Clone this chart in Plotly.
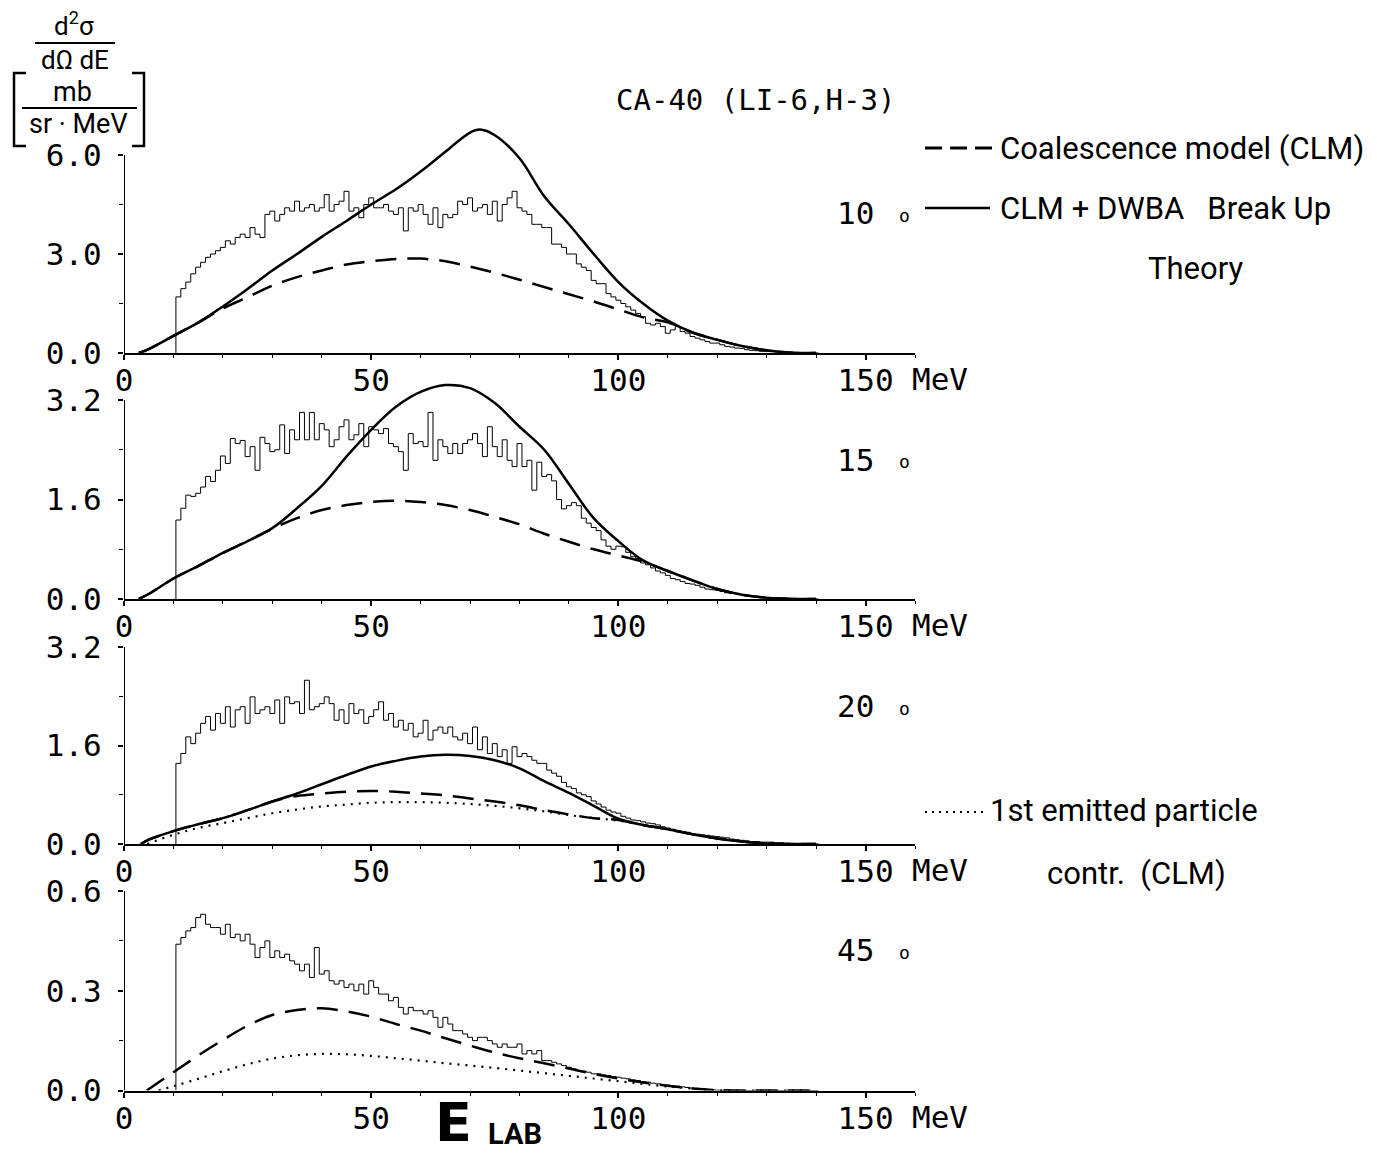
import plotly.graph_objects as go

W, H = 1377, 1153
MONO = "DejaVu Sans Mono"
SANS = "Roboto"

# ---------------- data ----------------
hist_E = list(range(11, 141))  # bin centres (MeV), 1 MeV bins

hist_10 = [1.7, 1.95, 2.15, 2.4, 2.6, 2.75, 2.9, 3.0, 3.1, 3.2,
           3.4, 3.3, 3.5, 3.6, 3.5, 3.8, 3.6, 3.5, 4.2, 4.3,
           4.0, 4.2, 4.4, 4.3, 4.6, 4.3, 4.4, 4.5, 4.3, 4.4,
           4.8, 4.3, 4.5, 4.6, 4.9, 4.3, 4.4, 4.1, 4.5, 4.7,
           4.4, 4.4, 4.5, 4.3, 4.2, 4.4, 3.7, 4.4, 4.3, 4.5,
           4.2, 3.9, 4.4, 3.8, 4.2, 4.1, 4.2, 4.6, 4.5, 4.7,
           4.3, 4.4, 4.5, 4.2, 4.6, 4.0, 4.5, 4.7, 4.9, 4.4,
           4.3, 4.2, 3.9, 3.9, 3.8, 3.8, 3.3, 3.3, 3.2, 3.0,
           3.0, 2.7, 2.6, 2.5, 2.2, 2.1, 2.1, 1.8, 1.7, 1.6,
           1.5, 1.4, 1.3, 1.2, 1.1, 0.9, 0.85, 0.9, 0.8, 0.6,
           0.7, 0.8, 0.65, 0.6, 0.5, 0.45, 0.4, 0.35, 0.3, 0.3,
           0.25, 0.2, 0.18, 0.15, 0.14, 0.1, 0.08, 0.07, 0.05, 0.05,
           0.04, 0.03, 0.03, 0.02, 0.02, 0.01, 0.01, 0, 0, 0]

hist_15 = [1.27, 1.46, 1.67, 1.65, 1.7, 1.8, 1.97, 1.89, 2.07, 2.3,
           2.18, 2.58, 2.5, 2.55, 2.29, 2.45, 2.07, 2.6, 2.5, 2.37,
           2.4, 2.8, 2.34, 2.72, 2.56, 3.0, 2.56, 3.0, 2.56, 2.82,
           2.72, 2.45, 2.56, 2.77, 2.88, 2.56, 2.64, 2.82, 2.45, 2.77,
           2.72, 2.66, 2.74, 2.5, 2.45, 2.37, 2.07, 2.66, 2.5, 2.53,
           2.45, 3.0, 2.23, 2.56, 2.45, 2.34, 2.5, 2.34, 2.5, 2.56,
           2.66, 2.5, 2.29, 2.77, 2.45, 2.29, 2.56, 2.23, 2.13, 2.5,
           2.13, 2.23, 1.75, 2.2, 1.97, 2.0, 1.9, 1.6, 1.45, 1.5,
           1.55, 1.5, 1.3, 1.22, 1.15, 1.1, 0.95, 0.85, 0.8, 0.85,
           0.84, 0.75, 0.68, 0.65, 0.58, 0.55, 0.5, 0.45, 0.42, 0.38,
           0.33, 0.31, 0.28, 0.25, 0.24, 0.22, 0.19, 0.16, 0.15, 0.14,
           0.12, 0.1, 0.09, 0.09, 0.07, 0.05, 0.04, 0.03, 0.03, 0.02,
           0.02, 0.01, 0.01, 0.01, 0, 0, 0, 0, 0, 0]

hist_20 = [1.31, 1.47, 1.74, 1.63, 1.8, 1.96, 2.07, 1.85, 2.12, 1.96,
           2.23, 1.9, 2.18, 2.23, 1.96, 2.39, 2.12, 2.18, 2.23, 2.12,
           2.34, 1.96, 2.39, 2.28, 2.31, 2.12, 2.66, 2.18, 2.23, 2.28,
           2.39, 2.28, 2.01, 2.18, 1.96, 2.28, 2.12, 2.18, 1.96, 2.07,
           2.18, 2.31, 2.01, 2.12, 1.9, 2.01, 1.85, 1.96, 1.74, 1.8,
           2.01, 1.69, 1.85, 1.9, 1.8, 1.9, 1.74, 1.69, 1.8, 1.63,
           1.9, 1.53, 1.74, 1.47, 1.63, 1.42, 1.53, 1.31, 1.58, 1.42,
           1.47, 1.42, 1.36, 1.31, 1.31, 1.2, 1.15, 1.1, 1.0, 0.93,
           0.9, 0.83, 0.8, 0.77, 0.7, 0.65, 0.6, 0.55, 0.52, 0.5,
           0.45, 0.42, 0.39, 0.38, 0.36, 0.34, 0.33, 0.31, 0.28, 0.26,
           0.24, 0.22, 0.2, 0.19, 0.17, 0.16, 0.15, 0.14, 0.13, 0.12,
           0.11, 0.1, 0.08, 0.07, 0.06, 0.05, 0.04, 0.04, 0.03, 0.03,
           0.03, 0.02, 0.02, 0.01, 0.01, 0, 0, 0, 0, 0]

hist_45 = [0.44, 0.46, 0.48, 0.49, 0.52, 0.53, 0.5, 0.49, 0.49, 0.47,
           0.5, 0.46, 0.47, 0.45, 0.47, 0.44, 0.4, 0.43, 0.45, 0.4,
           0.42, 0.4, 0.41, 0.39, 0.38, 0.36, 0.38, 0.34, 0.43, 0.35,
           0.36, 0.33, 0.32, 0.33, 0.31, 0.32, 0.3, 0.32, 0.29, 0.33,
           0.31, 0.29, 0.29, 0.27, 0.28, 0.25, 0.23, 0.25, 0.24, 0.24,
           0.23, 0.24, 0.22, 0.19, 0.22, 0.2, 0.18, 0.18, 0.17, 0.16,
           0.15, 0.16, 0.16, 0.15, 0.14, 0.13, 0.14, 0.13, 0.13, 0.14,
           0.11, 0.12, 0.11, 0.12, 0.09, 0.09, 0.085, 0.08, 0.075, 0.07,
           0.065, 0.06, 0.058, 0.055, 0.05, 0.05, 0.047, 0.045, 0.042, 0.04,
           0.037, 0.035, 0.032, 0.03, 0.027, 0.025, 0.022, 0.02, 0.018, 0.016,
           0.014, 0.013, 0.011, 0.009, 0.007, 0.005, 0.004, 0.003, 0.002, 0.001,
           0, 0, 0, 0, 0, 0, 0, 0, 0, 0,
           0, 0, 0, 0, 0, 0, 0, 0, 0, 0]

grid5 = list(range(5, 141, 5))  # 5,10,...,140

# 10 deg
dwba10_E = [3] + list(range(5, 71, 5)) + [72] + list(range(75, 141, 5))
dwba10 = [0, 0.12, 0.52, 0.92, 1.41, 1.94, 2.5, 3.0, 3.52, 4.0, 4.5, 4.96, 5.5, 6.1, 6.68,
          6.77, 6.6, 5.9, 4.75, 3.9, 3.0, 2.15, 1.5, 0.98, 0.62, 0.4, 0.21, 0.08, 0.01, 0]
clm10_E = [3] + grid5
clm10 = [0, 0.12, 0.52, 0.92, 1.35, 1.69, 2.04, 2.3, 2.5, 2.68, 2.78, 2.85, 2.86, 2.78, 2.62,
         2.43, 2.22, 2.0, 1.78, 1.56, 1.32, 1.08, 0.93, 0.62, 0.4, 0.21, 0.08, 0.01, 0]

# 15 deg
dwba15_E = [3] + grid5
dwba15 = [0, 0.08, 0.33, 0.53, 0.74, 0.93, 1.14, 1.46, 1.82, 2.29, 2.72, 3.09, 3.33, 3.44, 3.39,
          3.15, 2.77, 2.4, 1.85, 1.3, 0.93, 0.62, 0.45, 0.3, 0.16, 0.07, 0.02, 0, 0]
clm15_E = [3] + grid5
clm15 = [0, 0.08, 0.33, 0.53, 0.74, 0.93, 1.13, 1.3, 1.43, 1.51, 1.56, 1.58, 1.56, 1.51, 1.43,
         1.32, 1.2, 1.05, 0.92, 0.8, 0.7, 0.6, 0.45, 0.3, 0.16, 0.07, 0.02, 0, 0]

# 20 deg
dwba20_E = [3.4] + grid5
dwba20 = [0, 0.07, 0.21, 0.32, 0.42, 0.55, 0.69, 0.82, 0.97, 1.12, 1.26, 1.35, 1.42, 1.45, 1.43,
          1.36, 1.23, 1.02, 0.83, 0.62, 0.41, 0.31, 0.24, 0.16, 0.09, 0.04, 0.01, 0, 0]
clm20_E = [3.4] + grid5
clm20 = [0, 0.07, 0.21, 0.32, 0.42, 0.55, 0.69, 0.78, 0.82, 0.85, 0.86, 0.85, 0.82, 0.79, 0.74,
         0.69, 0.63, 0.55, 0.48, 0.42, 0.39, 0.31, 0.24, 0.16, 0.09, 0.04, 0.01, 0, 0]
first20_E = [4.7] + list(range(10, 141, 5))
first20 = [0, 0.15, 0.26, 0.34, 0.42, 0.5, 0.56, 0.61, 0.64, 0.67, 0.68, 0.68, 0.67, 0.65,
           0.62, 0.58, 0.53, 0.47, 0.42, 0.38, 0.31, 0.24, 0.16, 0.09, 0.04, 0.01, 0, 0]

# 45 deg
clm45_E = [4.6] + list(range(10, 141, 5))
clm45 = [0, 0.055, 0.105, 0.152, 0.195, 0.227, 0.242, 0.247, 0.238, 0.222, 0.2, 0.18,
         0.157, 0.135, 0.114, 0.097, 0.082, 0.066, 0.05, 0.036, 0.024, 0.014, 0.006, 0.001,
         0, 0, 0, 0]
first45_E = [7] + list(range(10, 141, 5))
first45 = [0, 0.013, 0.035, 0.058, 0.079, 0.096, 0.106, 0.11, 0.109, 0.104, 0.097, 0.09,
           0.082, 0.075, 0.068, 0.06, 0.052, 0.044, 0.036, 0.028, 0.02, 0.012, 0.006, 0.001,
           0, 0, 0, 0]

angles = ["10", "15", "20", "45"]
y_ticklabels = [["0.0", "3.0", "6.0"], ["0.0", "1.6", "3.2"], ["0.0", "1.6", "3.2"], ["0.0", "0.3", "0.6"]]
x_tickvals = [0, 50, 100, 150]
x_ticktext = ["0", "50", "100", "150"]

# ---------------- layout helpers ----------------
OFF = 8  # page body margin compensation


def px(x):
    return (x - OFF) / W


def py(y):
    return 1 - (y - OFF) / H


X0PX, X1PX = 124, 915
XMAX = 160
# (y0 pixel, top tick value, top tick pixel, range max)
panels = [(353, 6.0, 155, 7.0), (599, 3.2, 400, 3.6), (844, 3.2, 647, 3.2), (1090.5, 0.6, 891, 0.6)]

fig = go.Figure()

hist_sets = [hist_10, hist_15, hist_20, hist_45]
solid_sets = [(dwba10_E, dwba10), (dwba15_E, dwba15), (dwba20_E, dwba20), None]
dash_sets = [(clm10_E, clm10), (clm15_E, clm15), (clm20_E, clm20), (clm45_E, clm45)]
dot_sets = [None, None, (first20_E, first20), (first45_E, first45)]

shapes = []
annotations = []

for i, (y0px, topv, toppx, rmax) in enumerate(panels):
    n = "" if i == 0 else str(i + 1)
    xa, ya = "x" + n, "y" + n
    scale = (y0px - toppx) / topv
    dom_top = y0px - rmax * scale
    fig.layout["xaxis" + n] = dict(
        domain=[px(X0PX), px(X1PX)], range=[0, XMAX], anchor=ya, automargin=False,
        showline=True, linecolor="black", linewidth=2,
        ticks="outside", ticklen=5, tickwidth=1.5, tickcolor="black",
        tickmode="array", tickvals=x_tickvals, ticktext=x_ticktext,
        minor=dict(dtick=10, tick0=0, ticks="outside", ticklen=3, tickcolor="black", tickwidth=1),
        showgrid=False, zeroline=False, ticklabelstandoff=-6,
        tickfont=dict(family=MONO, size=31, color="black"),
    )
    fig.layout["yaxis" + n] = dict(
        domain=[py(y0px), py(dom_top)], range=[0, rmax], anchor=xa, automargin=False,
        showline=False, ticks="outside", ticklen=5, tickwidth=1.5, tickcolor="black",
        tickmode="array", tickvals=[0, topv / 2, topv], ticktext=y_ticklabels[i],
        minor=dict(tickmode="array", tickvals=[topv / 4, 3 * topv / 4], ticks="outside",
                   ticklen=4, tickcolor="black", tickwidth=1),
        showgrid=False, zeroline=False, ticklabelstandoff=10,
        tickfont=dict(family=MONO, size=31, color="black"),
    )
    # y axis line up to top tick
    shapes.append(dict(type="line", xref=xa, yref=ya, x0=0, x1=0, y0=0, y1=topv,
                       line=dict(color="black", width=2)))

    # histogram (step)
    hv = hist_sets[i]
    hx = [hist_E[0] - 0.5] + [e - 0.5 for e in hist_E] + [hist_E[-1] + 0.5]
    hy = [0] + hv + [hv[-1]]
    fig.add_trace(go.Scatter(x=hx, y=hy, mode="lines", line=dict(color="black", width=1, shape="hv"),
                             xaxis=xa, yaxis=ya, showlegend=False, hoverinfo="skip"))
    if dot_sets[i]:
        e, v = dot_sets[i]
        fig.add_trace(go.Scatter(x=e, y=v, mode="lines",
                                 line=dict(color="black", width=2.2, dash="2px,6px", shape="spline", smoothing=1),
                                 xaxis=xa, yaxis=ya, showlegend=False, hoverinfo="skip"))
    e, v = dash_sets[i]
    fig.add_trace(go.Scatter(x=e, y=v, mode="lines",
                             line=dict(color="black", width=2.5, dash="21px,11px", shape="spline", smoothing=1),
                             xaxis=xa, yaxis=ya, showlegend=False, hoverinfo="skip"))
    if solid_sets[i]:
        e, v = solid_sets[i]
        fig.add_trace(go.Scatter(x=e, y=v, mode="lines",
                                 line=dict(color="black", width=2.5, shape="spline", smoothing=1),
                                 xaxis=xa, yaxis=ya, showlegend=False, hoverinfo="skip"))

    # "MeV" after last x tick label
    annotations.append(dict(text="MeV", x=px(910), y=py(y0px + 26), xref="paper", yref="paper",
                            xanchor="left", yanchor="middle", showarrow=False,
                            font=dict(family=MONO, size=31, color="black")))

# angle labels
angle_y = [213, 460, 706, 950]
for a, yy in zip(angles, angle_y):
    annotations.append(dict(text=a, x=px(876), y=py(yy), xref="paper", yref="paper",
                            xanchor="right", yanchor="middle", showarrow=False,
                            font=dict(family=MONO, size=31, color="black")))
    annotations.append(dict(text="o", x=px(904), y=py(yy + 2), xref="paper", yref="paper",
                            xanchor="center", yanchor="middle", showarrow=False,
                            font=dict(family=MONO, size=18, color="black")))

# title
annotations.append(dict(text="CA-40 (LI-6,H-3)", x=px(755), y=py(100), xref="paper", yref="paper",
                        xanchor="center", yanchor="middle", showarrow=False,
                        font=dict(family=MONO, size=29, color="black")))


# legend texts
def sans(text, x, y, size=31, xanchor="left"):
    annotations.append(dict(text=text, x=px(x), y=py(y), xref="paper", yref="paper",
                            xanchor=xanchor, yanchor="middle", showarrow=False,
                            font=dict(family=SANS, size=size, color="black")))


sans("Coalescence model (CLM)", 998, 148)
sans("CLM + DWBA   Break Up", 998, 208)
sans("Theory", 1195, 268, xanchor="center")
sans("1st emitted particle", 988, 810)
sans("contr.  (CLM)", 1045, 873)

shapes.append(dict(type="line", xref="paper", yref="paper", x0=px(925), x1=px(995), y0=py(148), y1=py(148),
                   line=dict(color="black", width=3, dash="17px,8px")))
shapes.append(dict(type="line", xref="paper", yref="paper", x0=px(925), x1=px(990), y0=py(208), y1=py(208),
                   line=dict(color="black", width=2.5)))
shapes.append(dict(type="line", xref="paper", yref="paper", x0=px(925), x1=px(988), y0=py(812), y1=py(812),
                   line=dict(color="black", width=2, dash="2px,5px")))

# y-axis quantity label block
sans("d<sup>2</sup>σ", 74, 24, size=26, xanchor="center")
sans("dΩ dE", 75, 60, size=26, xanchor="center")
sans("mb", 72, 92, size=27, xanchor="center")
sans("sr · MeV", 78, 124, size=27, xanchor="center")
shapes.append(dict(type="line", xref="paper", yref="paper", x0=px(35), x1=px(115), y0=py(43), y1=py(43),
                   line=dict(color="black", width=2)))
shapes.append(dict(type="line", xref="paper", yref="paper", x0=px(22), x1=px(137), y0=py(108), y1=py(108),
                   line=dict(color="black", width=2)))
for (xa_, xb_) in [(26, 14), (132, 144)]:
    path = "M {a},{t} L {b},{t} L {b},{bo} L {a},{bo}".format(
        a=px(xa_), b=px(xb_), t=py(73), bo=py(146))
    shapes.append(dict(type="path", xref="paper", yref="paper", path=path,
                       line=dict(color="black", width=2.5)))

# E_LAB axis label
annotations.append(dict(text="<b>E</b>", x=px(433), y=py(1122), xref="paper", yref="paper",
                        xanchor="left", yanchor="middle", showarrow=False,
                        font=dict(family="DejaVu Sans", size=54, color="black")))
annotations.append(dict(text="<b>LAB</b>", x=px(486), y=py(1134), xref="paper", yref="paper",
                        xanchor="left", yanchor="middle", showarrow=False,
                        font=dict(family=SANS, size=29, color="black")))

fig.update_layout(
    template="none",
    width=W, height=H, autosize=False,
    margin=dict(l=0, r=0, t=0, b=0, pad=0),
    paper_bgcolor="white", plot_bgcolor="white",
    shapes=shapes, annotations=annotations, showlegend=False,
)

fig.write_html("out.html")
